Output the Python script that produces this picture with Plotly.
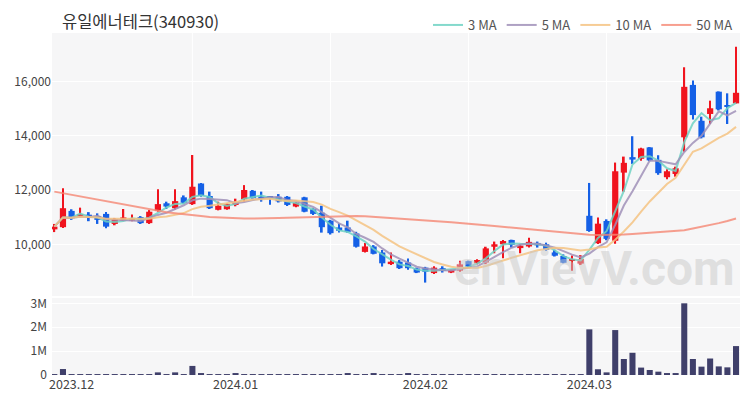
import pandas as pd
import plotly.graph_objects as go
from plotly.subplots import make_subplots

title_text = "유일에너테크(340930)"

dates = [
    "2023-11-29", "2023-11-30",
    "2023-12-01", "2023-12-04", "2023-12-05", "2023-12-06", "2023-12-07", "2023-12-08",
    "2023-12-11", "2023-12-12", "2023-12-13", "2023-12-14", "2023-12-15",
    "2023-12-18", "2023-12-19", "2023-12-20", "2023-12-21", "2023-12-22",
    "2023-12-26", "2023-12-27", "2023-12-28",
    "2024-01-02", "2024-01-03", "2024-01-04", "2024-01-05",
    "2024-01-08", "2024-01-09", "2024-01-10", "2024-01-11", "2024-01-12",
    "2024-01-15", "2024-01-16", "2024-01-17", "2024-01-18", "2024-01-19",
    "2024-01-22", "2024-01-23", "2024-01-24", "2024-01-25", "2024-01-26",
    "2024-01-29", "2024-01-30", "2024-01-31",
    "2024-02-01", "2024-02-02", "2024-02-05", "2024-02-06", "2024-02-07", "2024-02-08",
    "2024-02-13", "2024-02-14", "2024-02-15", "2024-02-16",
    "2024-02-19", "2024-02-20", "2024-02-21", "2024-02-22", "2024-02-23",
    "2024-02-26", "2024-02-27", "2024-02-28", "2024-02-29",
    "2024-03-04", "2024-03-05", "2024-03-06", "2024-03-07", "2024-03-08",
    "2024-03-11", "2024-03-12", "2024-03-13", "2024-03-14", "2024-03-15",
    "2024-03-18", "2024-03-19", "2024-03-20", "2024-03-21", "2024-03-22",
    "2024-03-25", "2024-03-26", "2024-03-27",
]

open_ = [10550, 10630, 11230, 11020, 11090, 11040, 11120, 10750, 10870, 10870,
         11000, 10780, 11240, 11510, 11330, 11730, 11480, 12240, 11780, 11270,
         11290, 11450, 11660, 11970, 11760, 11760, 11750, 11750, 11390, 11730,
         11290, 11160, 10870, 10620, 10620, 10400, 9720, 9920, 9700, 9270,
         9360, 9330, 9110, 9140, 8940, 9120, 8960, 9030, 9380, 9300,
         9330, 9910, 10000, 10160, 9860, 9920, 10050, 10000, 9700, 9570,
         9400, 9290, 11050, 10040, 10860, 10130, 12640, 13210, 13150, 13570,
         13110, 12470, 12590, 13940, 15870, 14550, 14800, 15620, 15130, 15190]
high = [10750, 12060, 11290, 11350, 11185, 11140, 11190, 10970, 11300, 11100,
        11040, 11260, 12030, 11570, 12030, 11800, 13290, 12260, 11940, 11570,
        11500, 11680, 12180, 12000, 11940, 11770, 11850, 11780, 11560, 11750,
        11330, 11420, 10900, 10770, 10870, 10460, 10050, 9970, 9790, 9700,
        9420, 9480, 9140, 9170, 9190, 9190, 9070, 9390, 9400, 9450,
        9910, 10100, 10160, 10170, 10000, 10240, 10100, 10060, 9800, 9630,
        9590, 9600, 12260, 10990, 10920, 13010, 13230, 13980, 13560, 13580,
        13280, 12760, 12860, 16520, 16030, 14700, 15290, 15630, 15560, 17280]
low = [10450, 10600, 10900, 11000, 10850, 10750, 10590, 10700, 10860, 10850,
       10750, 10750, 11200, 11300, 11280, 11500, 11450, 11750, 11300, 11250,
       11270, 11400, 11570, 11680, 11570, 11460, 11540, 11410, 11360, 11180,
       11080, 10430, 10360, 10430, 10430, 9880, 9700, 9630, 9180, 9240,
       9090, 9060, 8940, 8590, 8910, 8960, 8940, 8990, 9170, 9260,
       9270, 9670, 9490, 9880, 9670, 9880, 9880, 9760, 9550, 9300,
       9030, 9240, 10460, 10010, 10150, 10020, 11940, 12960, 13080, 13060,
       12560, 12400, 12490, 13410, 14600, 13900, 14430, 14930, 14430, 15190]
close = [10650, 11330, 10960, 11110, 10970, 10900, 10650, 10920, 10990, 10960,
         10780, 11200, 11480, 11390, 11590, 11530, 12120, 11780, 11330, 11420,
         11480, 11560, 12000, 11700, 11700, 11710, 11580, 11450, 11530, 11200,
         11120, 10630, 10410, 10500, 10460, 9910, 9920, 9650, 9300, 9360,
         9120, 9120, 8960, 8990, 9140, 9020, 9050, 9260, 9180, 9420,
         9850, 10000, 10120, 9980, 9950, 10090, 9960, 9800, 9580, 9320,
         9440, 9460, 10490, 10760, 10200, 12690, 13000, 13120, 13530, 13090,
         12620, 12690, 12800, 15800, 14760, 13940, 15010, 14970, 15070, 15580]

volume = [30000, 250000, 30000, 20000, 25000, 20000, 15000, 15000, 10000, 12000,
          15000, 30000, 110000, 25000, 110000, 30000, 380000, 40000, 25000, 15000,
          10000, 50000, 20000, 15000, 12000, 10000, 15000, 12000, 10000, 15000,
          12000, 20000, 15000, 12000, 70000, 20000, 30000, 70000, 20000, 25000,
          15000, 50000, 15000, 20000, 12000, 15000, 10000, 20000, 15000, 12000,
          30000, 20000, 15000, 12000, 10000, 15000, 12000, 10000, 15000, 12000,
          20000, 15000, 1910000, 240000, 110000, 1880000, 670000, 930000, 310000, 210000,
          140000, 80000, 80000, 3000000, 670000, 350000, 690000, 360000, 320000, 1210000]

ma50 = [11940, 11880, 11820, 11760, 11700, 11640, 11580, 11520, 11460, 11400,
        11340, 11280, 11230, 11180, 11140, 11100, 11070, 11040, 11010, 10990,
        10970, 10960, 10950, 10950, 10950, 10960, 10970, 10980, 10990, 11000,
        11010, 11020, 11030, 11040, 11040, 11040, 11030, 11010, 10990, 10970,
        10950, 10920, 10900, 10880, 10860, 10830, 10810, 10780, 10760, 10730,
        10700, 10670, 10640, 10610, 10580, 10550, 10520, 10490, 10460, 10430,
        10400, 10380, 10350, 10340, 10340, 10350, 10360, 10380, 10400, 10420,
        10440, 10460, 10480, 10520, 10580, 10640, 10700, 10780, 10860, 10950]

month_ticks = ["2023-12-01", "2024-01-02", "2024-02-01", "2024-03-04"]
month_labels = ["2023.12", "2024.01", "2024.02", "2024.03"]
price_ticks = [10000, 12000, 14000, 16000]
vol_ticks = [0, 1000000, 2000000, 3000000]
vol_labels = ["0", "1M", "2M", "3M"]

closes = pd.Series(close)
ma3 = closes.rolling(3, min_periods=1).mean()
ma5 = closes.rolling(5, min_periods=1).mean()
ma10 = closes.rolling(10, min_periods=1).mean()

RED = "#f0141e"
BLUE = "#1560e6"
FONT = "Noto Sans CJK KR"
MIN_BODY = 40  # minimum visible body height for doji-like candles

fig = make_subplots(rows=2, cols=1, shared_xaxes=True)

for is_up, colr in [(True, RED), (False, BLUE)]:
    idx = [i for i in range(len(dates)) if (close[i] >= open_[i]) == is_up]
    xs = [dates[i] for i in idx]
    # wicks
    fig.add_trace(go.Bar(x=xs, base=[low[i] for i in idx],
                         y=[high[i] - low[i] for i in idx], width=0.2,
                         marker=dict(color=colr, line=dict(width=0)),
                         showlegend=False, hoverinfo="skip"), row=1, col=1)
    # bodies
    fig.add_trace(go.Bar(x=xs, base=[min(open_[i], close[i]) for i in idx],
                         y=[max(abs(close[i] - open_[i]), MIN_BODY) for i in idx], width=0.72,
                         marker=dict(color=colr, line=dict(width=0)),
                         showlegend=False, hoverinfo="skip"), row=1, col=1)

for name, ser, col in [("3 MA", ma3, "rgba(110,210,195,0.85)"),
                       ("5 MA", ma5, "rgba(160,145,185,0.85)"),
                       ("10 MA", ma10, "rgba(245,195,130,0.85)"),
                       ("50 MA", ma50, "rgba(245,135,115,0.8)")]:
    fig.add_trace(go.Scatter(x=dates, y=list(ser), mode="lines", name=name,
                             line=dict(color=col, width=2), hoverinfo="skip"),
                  row=1, col=1)

fig.add_trace(go.Bar(x=dates, y=volume, marker=dict(color="#3f3f6a", line=dict(width=0)),
                     width=0.7, showlegend=False, hoverinfo="skip"), row=2, col=1)

grid_idx = [16, 32, 48, 64]
for g in grid_idx:
    fig.add_shape(type="line", xref="x", yref="y domain", x0=g, x1=g, y0=0, y1=1,
                  line=dict(color="white", width=1), layer="below")

fig.update_layout(
    width=750, height=400,
    margin=dict(l=52, r=10, t=33, b=25, autoexpand=False),
    paper_bgcolor="white", plot_bgcolor="#f6f6f7",
    font=dict(family=FONT, size=12, color="#444"),
    barmode="overlay",
    title=dict(text=title_text, x=62 / 750, xref="container", xanchor="left",
               y=1 - 22 / 400, yref="container", yanchor="middle",
               font=dict(family=FONT, size=16.5, color="#333")),
    legend=dict(orientation="h", x=738 / 750, xanchor="right", xref="container",
                y=1 - 25 / 400, yanchor="middle", yref="container",
                font=dict(size=13, color="#555"), bgcolor="rgba(0,0,0,0)",
                itemwidth=30),
    annotations=[dict(text="<b>enVievV.com</b>", x=0.789, y=0.31, xref="paper", yref="paper",
                      xanchor="center", yanchor="middle", showarrow=False,
                      font=dict(family="Roboto", size=48, color="rgba(200,200,200,0.5)"))],
)

fig.update_xaxes(type="category", categoryorder="array", categoryarray=dates,
                 range=[-0.27, 79.46], showgrid=False, zeroline=False, ticks="")
fig.update_xaxes(tickvals=month_ticks, ticktext=month_labels, tickfont=dict(size=12.5, color="#444"),
                 row=2, col=1)
fig.update_xaxes(showticklabels=False, row=1, col=1)

fig.update_yaxes(domain=[0.231, 1.0], range=[8096, 17782], tickvals=price_ticks,
                 tickformat=",", gridcolor="white", gridwidth=1, zeroline=False,
                 ticks="", automargin=False, row=1, col=1)
fig.update_yaxes(domain=[0.0, 0.225], range=[0, 3220000], tickvals=vol_ticks, ticktext=vol_labels,
                 gridcolor="white", gridwidth=1, zeroline=False, ticks="", automargin=False,
                 ticklabelstandoff=4, row=2, col=1)

fig.write_html("out.html", config={"displayModeBar": False},
               post_script="document.body.style.margin='0';document.body.style.padding='0';")
